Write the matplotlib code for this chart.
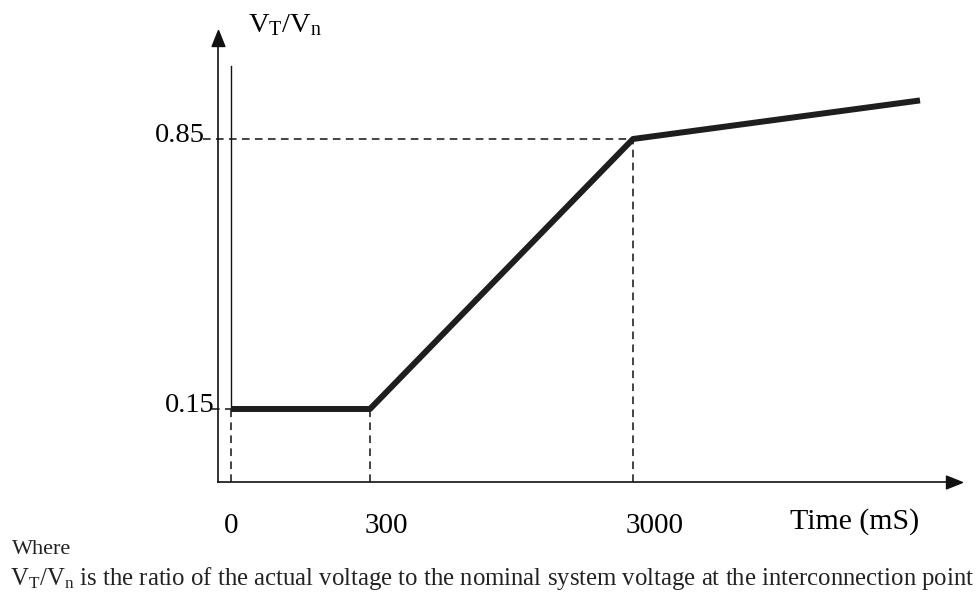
import numpy as np
import matplotlib.pyplot as plt

plt.rcParams['font.family'] = 'Liberation Serif'
plt.rcParams['mathtext.fontset'] = 'custom'
plt.rcParams['mathtext.rm'] = 'Liberation Serif'
plt.rcParams['mathtext.it'] = 'Liberation Serif:italic'

# voltage ride-through profile (corner points)
time_ms = [0, 300, 3000, 6000]
ratio = [0.15, 0.15, 0.85, 0.95]
tick_times = [0, 300, 3000]
tick_labels = ['0', '300', '3000']
level_values = [0.15, 0.85]
level_labels = ['0.15', '0.85']

# time axis is schematic, so use a piecewise-linear spacing
knots_t = np.array([-300, 0, 300, 3000, 6000, 9000])
knots_u = np.array([-139, 0, 139, 402, 689, 976])


def fwd(t):
    return np.interp(t, knots_t, knots_u)


def inv(u):
    return np.interp(u, knots_u, knots_t)


W, H = 978, 594
fig = plt.figure(figsize=(W / 100, H / 100), dpi=100)
ax = fig.add_axes([218 / W, 1 - 482 / H, 729 / W, 436 / H])
ax.set_xscale('function', functions=(fwd, inv))
ax.set_xlim(-28, 6282)
ax.set_ylim(-0.0393, 1.0911)
ax.set_xticks([])
ax.set_yticks([])
ax.spines[['top', 'right']].set_visible(False)
for s in ('left', 'bottom'):
    ax.spines[s].set_linewidth(1.2)
    ax.spines[s].set_color('#111111')

# arrow heads on the axes
right_head = [(1, 0), (-1, 0.8), (-1, -0.8), (1, 0)]
up_head = [(0, 1), (-0.8, -1), (0.8, -1), (0, 1)]
ax.plot(1.0096, 0, marker=right_head, color='#111111', ms=11.5,
        transform=ax.transAxes, clip_on=False)
ax.plot(0, 1.0183, marker=up_head, color='#111111', ms=11.5,
        transform=ax.transAxes, clip_on=False)

ybot = ax.get_ylim()[0]
dash = dict(color='#111111', lw=1.1, dashes=(5, 3.5), clip_on=False)

# guide lines
ax.plot([0, 0], [ratio[0], 1.039], color='#111111', lw=1.0)
ax.plot([0, 0], [ybot, ratio[0]], **dash)
ax.plot([time_ms[1]] * 2, [ybot, ratio[1]], **dash)
ax.plot([time_ms[2]] * 2, [ybot, ratio[2]], **dash)
ax.plot([-60, time_ms[2]], [level_values[1]] * 2, **dash)
ax.plot([-40, 0], [level_values[0]] * 2, **dash)

# the profile itself
ax.plot(time_ms, ratio, color='#1e1e1e', lw=4.3, solid_capstyle='butt')

# level labels on the vertical axis
for v, lab, dx, dy in zip(level_values, level_labels, [-3, -13], [-3, -3]):
    ax.annotate(lab, (0, v), xycoords=('axes fraction', 'data'),
                xytext=(dx, dy), textcoords='offset pixels',
                ha='right', va='baseline', fontsize=20.5)

# time labels
for t, lab, dx in zip(tick_times, tick_labels, [0, 16, 22]):
    ax.annotate(lab, (t, 0), xycoords=('data', 'axes fraction'),
                xytext=(dx, -51), textcoords='offset pixels',
                ha='center', va='baseline', fontsize=21)

fig.text(790 / W, 1 - 529 / H, 'Time (mS)', ha='left', va='baseline', fontsize=21.5)
fig.text(248 / W, 1 - 32 / H, r'$\mathrm{V_T/V_n}$', ha='left', va='baseline', fontsize=20.5)

fig.text(12 / W, 1 - 554 / H, 'Where', ha='left', va='baseline', fontsize=16, color='#222222')
fig.text(10 / W, 1 - 585 / H,
         r'$\mathrm{V_T/V_n}$ is the ratio of the actual voltage to the nominal system voltage at the interconnection point',
         ha='left', va='baseline', fontsize=17.8, color='#222222')

fig.savefig('out.png', dpi=100)
